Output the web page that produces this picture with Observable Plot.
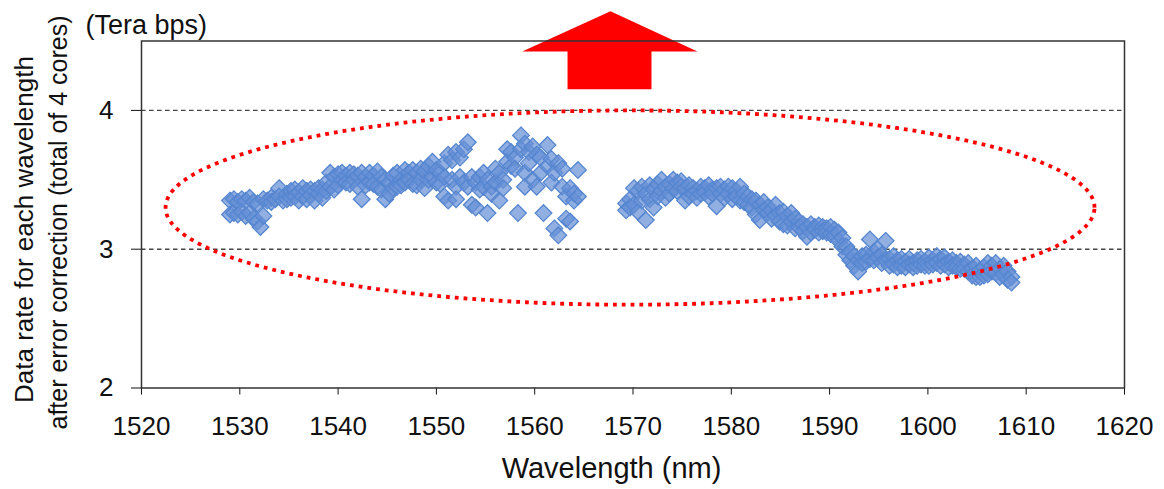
<!DOCTYPE html>
<html><head><meta charset="utf-8">
<script src="https://cdn.jsdelivr.net/npm/d3@7"></script>
<script src="https://cdn.jsdelivr.net/npm/@observablehq/plot@0.6"></script>
<style>body{margin:0;background:#fff}</style>
</head><body><div id="chart"></div>
<script>
// ---- data ----
const xTicks = [1520, 1530, 1540, 1550, 1560, 1570, 1580, 1590, 1600, 1610, 1620];
const yTicks = [2, 3, 4];
const gridValues = [3, 4];
const unitLabel = "(Tera bps)";
const xTitle = "Wavelength (nm)";
const yTitle1 = "Data rate for each wavelength";
const yTitle2 = "after error correction (total of 4 cores)";

const cBandWavelengths = [1529.0,1529.4,1529.8,1530.2,1530.6,1531.0,1531.4,1531.8,1532.1,1532.4,1532.8,1533.2,1533.6,1534.0,1534.4,1534.8,1535.2,1535.6,1536.0,1536.4,1536.8,1537.2,1537.6,1538.0,1538.4,1538.8,1539.2,1539.6,1540.0,1540.4,1540.8,1541.2,1541.6,1542.0,1542.4,1542.8,1543.2,1543.6,1544.0,1544.4,1544.8,1545.2,1545.6,1546.0,1546.4,1546.8,1547.2,1547.6,1548.0,1548.4,1548.8,1549.2,1549.6,1550.0,1550.4,1550.8,1551.2,1551.6,1552.0,1552.4,1552.8,1553.2,1553.6,1554.0,1554.4,1554.8,1555.2,1555.6,1556.0,1556.4,1556.8,1557.2,1557.6,1558.0,1558.3,1558.6,1559.0,1559.4,1559.8,1560.2,1560.6,1560.9,1561.3,1561.7,1562.0,1562.4,1562.8,1563.2,1563.6,1564.0,1564.4];
const cBandRates = [[3.35,3.25],[3.36,3.26],[3.34,3.25],[3.36,3.27],[3.35,3.24],[3.37,3.26],[3.34,3.22],[3.33,3.20],[3.16],[3.36,3.24],[3.35],[3.37,3.34],[3.36],[3.44,3.38],[3.35],[3.40,3.36],[3.42,3.37],[3.43,3.38],[3.41,3.35],[3.44,3.38],[3.42,3.36],[3.43,3.39],[3.42,3.35],[3.44,3.40],[3.43,3.37],[3.48,3.42],[3.55,3.45],[3.52,3.43],[3.54,3.46],[3.55,3.50],[3.53,3.48],[3.55,3.47],[3.54,3.50],[3.53,3.45],[3.55,3.36],[3.52,3.46],[3.55,3.48],[3.53,3.47],[3.56,3.45],[3.52,3.43],[3.50,3.36],[3.48,3.40],[3.53,3.44],[3.55,3.45],[3.50,3.46],[3.57,3.48],[3.55,3.50],[3.57,3.47],[3.55,3.46],[3.58,3.50],[3.56,3.44],[3.60,3.50],[3.63,3.52],[3.57,3.48],[3.55,3.47],[3.62,3.52,3.38],[3.68,3.35],[3.64,3.50],[3.70,3.45,3.36],[3.66,3.52],[3.72,3.48],[3.77,3.45],[3.52,3.32],[3.48,3.30],[3.52,3.43],[3.55,3.45],[3.50,3.26],[3.45,3.40],[3.58,3.48],[3.55,3.35],[3.50,3.44],[3.72,3.63],[3.70,3.60],[3.66,3.58],[3.26],[3.82,3.72],[3.76,3.55,3.45],[3.70,3.62],[3.74,3.50],[3.68,3.45],[3.66,3.55],[3.26],[3.75,3.60],[3.65,3.48],[3.15,3.55],[3.62,3.10],[3.58,3.45],[3.22,3.38],[3.44,3.20],[3.40,3.35],[3.57,3.38]];

const lBandWavelengths = [1569.3,1569.7,1570.1,1570.5,1570.9,1571.3,1571.7,1572.1,1572.5,1572.9,1573.3,1573.7,1574.1,1574.5,1574.9,1575.3,1575.7,1576.1,1576.5,1576.9,1577.3,1577.7,1578.1,1578.5,1578.9,1579.3,1579.7,1580.1,1580.5,1580.9,1581.3,1581.7,1582.1,1582.5,1582.9,1583.3,1583.7,1584.1,1584.5,1584.9,1585.3,1585.7,1586.1,1586.5,1586.9,1587.3,1587.7,1588.1,1588.5,1588.9,1589.3,1589.7,1590.1,1590.5,1590.9,1591.3,1591.7,1592.1,1592.5,1592.9,1593.3,1593.7,1594.1,1594.5,1594.9,1595.3,1595.7,1596.1,1596.5,1596.9,1597.3,1597.7,1598.1,1598.5,1598.9,1599.3,1599.7,1600.1,1600.5,1600.9,1601.3,1601.7,1602.1,1602.5,1602.9,1603.3,1603.7,1604.1,1604.5,1604.9,1605.3,1605.7,1606.1,1606.5,1606.9,1607.3,1607.7,1608.1,1608.5];
const lBandRates = [[3.33,3.28],[3.36,3.30],[3.44,3.32],[3.42,3.27],[3.45,3.35],[3.40,3.21],[3.46,3.36],[3.43,3.30],[3.47,3.38],[3.50,3.42],[3.45,3.37],[3.47,3.40],[3.50,3.44],[3.48,3.42],[3.49,3.45],[3.44,3.35],[3.46,3.38],[3.44,3.40],[3.42,3.37],[3.45,3.40],[3.44,3.41],[3.46,3.38],[3.43,3.40],[3.44,3.31],[3.45,3.40],[3.43,3.37],[3.45,3.40],[3.44,3.36],[3.42,3.38],[3.45,3.35],[3.40,3.34],[3.38,3.32],[3.36,3.30],[3.35,3.25],[3.32,3.21],[3.34,3.28],[3.30,3.26],[3.28,3.22],[3.32,3.24],[3.26,3.20],[3.27,3.18],[3.24,3.17],[3.26,3.20],[3.22,3.15],[3.20,3.16],[3.18,3.13],[3.16,3.09],[3.18,3.12],[3.16,3.14],[3.17,3.12],[3.16,3.13],[3.15,3.12],[3.16,3.11],[3.14,3.10],[3.12,3.06],[3.08,3.02],[3.02,2.96],[2.98,2.92],[2.95,2.88],[2.92,2.84],[2.95,2.90],[2.96,2.91],[3.07,2.93],[2.98,2.92],[3.00,2.94],[2.96,2.90],[3.06,2.92],[2.93,2.88],[2.95,2.89],[2.92,2.87],[2.93,2.88],[2.91,2.87],[2.93,2.89],[2.90,2.87],[2.92,2.88],[2.93,2.89],[2.91,2.88],[2.94,2.88],[2.92,2.89],[2.95,2.90],[2.93,2.88],[2.94,2.89],[2.91,2.87],[2.92,2.88],[2.90,2.87],[2.91,2.86],[2.89,2.86],[2.90,2.84],[2.86,2.81],[2.88,2.80],[2.85,2.80],[2.87,2.81],[2.90,2.82],[2.88,2.84],[2.90,2.83],[2.86,2.80],[2.88,2.82],[2.84,2.78],[2.80,2.76]];

// annotation shapes (data coordinates)
const ellipseCenter = {x: 1569.7, y: 3.30};
const ellipseRadius = {x: 47.25, y: 0.70};
const arrowX = [1558.73, 1567.71, 1576.56, 1571.88, 1571.88, 1563.34, 1563.34];
const arrowY = [4.424, 4.715, 4.424, 4.424, 4.153, 4.153, 4.424];

// ---- build tables ----
const points = [];
cBandWavelengths.forEach((w, i) => cBandRates[i].forEach(r => points.push({wavelength: w, rate: r})));
lBandWavelengths.forEach((w, i) => lBandRates[i].forEach(r => points.push({wavelength: w, rate: r})));
const ellipsePts = d3.range(0, 361, 1).map(a => {
  const t = a * Math.PI / 180;
  return {x: ellipseCenter.x + ellipseRadius.x * Math.cos(t), y: ellipseCenter.y + ellipseRadius.y * Math.sin(t)};
});
const arrowPts = arrowX.map((x, i) => ({x, y: arrowY[i]}));

const font = "'Liberation Sans', Arial, Helvetica, sans-serif";
const chart = Plot.plot({
  width: 1164, height: 489,
  marginLeft: 141, marginRight: 40, marginTop: 40.5, marginBottom: 101.5,
  style: {fontFamily: font, fontSize: "26px", color: "#111", background: "#fff", overflow: "visible"},
  x: {domain: [1520, 1620], ticks: xTicks, tickSize: 7, tickPadding: 22, label: null, tickFormat: d => String(d)},
  y: {domain: [2, 4.5], ticks: yTicks, tickSize: 10, tickPadding: 18, label: null, tickFormat: d => String(d)},
  marks: [
    Plot.ruleY(gridValues, {stroke: "#444", strokeWidth: 1.4, strokeDasharray: "4.5,3.5"}),
    Plot.dot(points, {x: "wavelength", y: "rate", symbol: "diamond2", r: 7.5, fill: "#6690d6", fillOpacity: 0.72, stroke: "#5686d0", strokeWidth: 1.3}),
    Plot.line(ellipsePts, {x: "x", y: "y", stroke: "#ff0000", strokeWidth: 3.8, strokeDasharray: "3.8,5", strokeLinecap: "butt"}),
    Plot.line(arrowPts, {x: "x", y: "y", fill: "#ff0000", stroke: "none"}),
    Plot.frame({stroke: "#333", strokeWidth: 1.5}),
    Plot.text([unitLabel], {text: d => d, frameAnchor: "top-left", textAnchor: "start", lineAnchor: "middle", dx: -56, dy: -15.8, fontSize: 27, fill: "#111"}),
    Plot.text([xTitle], {text: d => d, frameAnchor: "bottom", textAnchor: "middle", lineAnchor: "middle", dx: -21.5, dy: 81, fontSize: 29, fill: "#111"}),
    Plot.text([yTitle1], {text: d => d, frameAnchor: "left", textAnchor: "middle", lineAnchor: "middle", rotate: -90, dx: -117, dy: 15, fontSize: 26, fill: "#111"}),
    Plot.text([yTitle2], {text: d => d, frameAnchor: "left", textAnchor: "middle", lineAnchor: "middle", rotate: -90, dx: -83, dy: 8, fontSize: 25, fill: "#111"})
  ]
});
document.getElementById("chart").appendChild(chart);
</script>
</body></html>
